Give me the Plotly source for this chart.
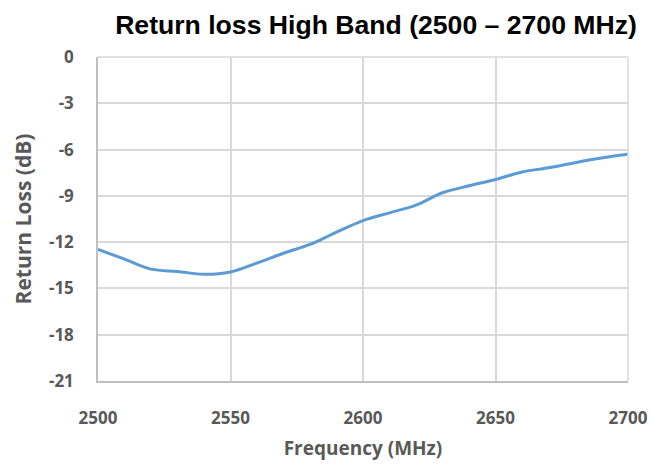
import plotly.graph_objects as go

freq = [2500, 2510, 2520, 2530, 2540, 2550, 2560, 2570, 2580, 2590, 2600,
        2610, 2620, 2630, 2640, 2650, 2660, 2670, 2680, 2690, 2700]
return_loss = [-12.47, -13.1, -13.75, -13.9, -14.08, -13.93, -13.35, -12.72, -12.15, -11.35, -10.6,
               -10.1, -9.6, -8.8, -8.35, -7.94, -7.45, -7.18, -6.85, -6.55, -6.31]
x_ticks = [2500, 2550, 2600, 2650, 2700]
y_ticks = [0, -3, -6, -9, -12, -15, -18, -21]
y_tick_labels = ["0", "-3", "-6", "-9", "-12", "-15", "-18", "-21"]

fig = go.Figure()
fig.add_trace(go.Scatter(x=freq, y=return_loss, mode="lines",
                         line=dict(color="#5B9BD5", width=3, shape="spline", smoothing=1.0),
                         showlegend=False, hoverinfo="skip"))

tick_font = dict(family="Open Sans, sans-serif", size=17, color="#595959", weight="bold")
fig.update_layout(
    width=652, height=467,
    margin=dict(l=98, r=24, t=57, b=86, autoexpand=False),
    paper_bgcolor="white", plot_bgcolor="white",
    title=dict(text="Return loss High Band (2500 – 2700 MHz)",
               font=dict(family="Liberation Sans, Arial, sans-serif", size=26.6, color="black", weight="bold"),
               x=376 / 652, xanchor="center", y=1 - 25 / 467, yanchor="middle"),
    xaxis=dict(range=[2500, 2700], tickvals=x_ticks,
               showgrid=True, gridcolor="#D9D9D9", gridwidth=1.5,
               showline=True, linecolor="#BFBFBF", linewidth=1.5, automargin=False,
               zeroline=False, ticks="", tickfont=tick_font, ticklabelstandoff=21,
               title=dict(text="Frequency (MHz)", standoff=14,
                          font=dict(family="Open Sans, sans-serif", size=19, color="#595959", weight="bold"))),
    yaxis=dict(range=[-21, 0], tickvals=y_ticks, ticktext=y_tick_labels, automargin=False,
               showgrid=True, gridcolor="#D9D9D9", gridwidth=1.5,
               showline=True, linecolor="#BFBFBF", linewidth=1.5,
               zeroline=False, ticks="", tickfont=tick_font, ticklabelstandoff=19,
               title=dict(text="Return Loss (dB)", standoff=12,
                          font=dict(family="Open Sans, sans-serif", size=21, color="#595959", weight="bold"))),
)
fig.add_shape(type="line", xref="paper", yref="paper", x0=0, x1=1, y0=1, y1=1,
              line=dict(color="#D9D9D9", width=1.5))
fig.add_shape(type="line", xref="paper", yref="paper", x0=1, x1=1, y0=0, y1=1,
              line=dict(color="#D9D9D9", width=1.5))

fig.write_html("out.html", config={"displayModeBar": False},
               post_script="document.body.style.margin='0px';")
